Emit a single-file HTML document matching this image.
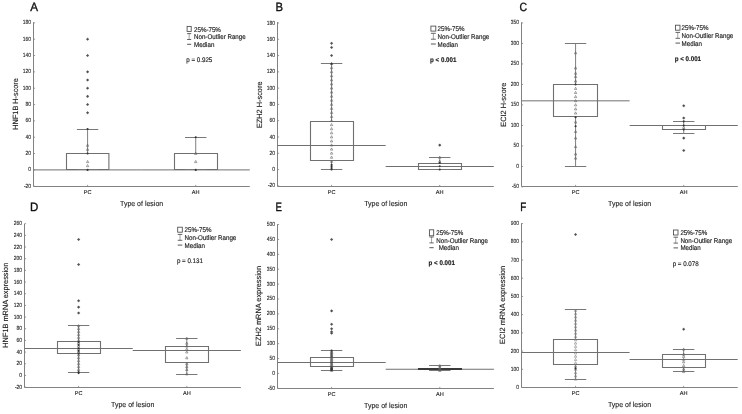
<!DOCTYPE html>
<html><head><meta charset="utf-8"><style>
html,body{margin:0;padding:0;background:#fff;}
svg{display:block;font-family:"Liberation Sans", sans-serif;filter:grayscale(1);text-rendering:geometricPrecision;}
text{stroke:#1a1a1a;stroke-width:0.15px;}
</style></head><body>
<svg width="742" height="414" viewBox="0 0 742 414">
<rect width="742" height="414" fill="#fff"/>
<text transform="translate(30.22 10.5) scale(0.97 1)" font-size="12" fill="#111" style="stroke:#111;stroke-width:0.35px">A</text>
<path d="M33.5 22.2V186.5H249.8" fill="none" stroke="#828282" stroke-width="1"/>
<path d="M33.5 186.24h1.6" stroke="#828282" stroke-width="0.8"/>
<text x="31" y="187.74" font-size="6.0" text-anchor="end" fill="#1a1a1a" style="stroke-width:0.1px" textLength="7.12" lengthAdjust="spacingAndGlyphs">-20</text>
<path d="M33.5 169.9h1.6" stroke="#828282" stroke-width="0.8"/>
<text x="31" y="171.4" font-size="6.0" text-anchor="end" fill="#1a1a1a" style="stroke-width:0.1px" textLength="2.74" lengthAdjust="spacingAndGlyphs">0</text>
<path d="M33.5 153.56h1.6" stroke="#828282" stroke-width="0.8"/>
<text x="31" y="155.06" font-size="6.0" text-anchor="end" fill="#1a1a1a" style="stroke-width:0.1px" textLength="5.48" lengthAdjust="spacingAndGlyphs">20</text>
<path d="M33.5 137.22h1.6" stroke="#828282" stroke-width="0.8"/>
<text x="31" y="138.72" font-size="6.0" text-anchor="end" fill="#1a1a1a" style="stroke-width:0.1px" textLength="5.48" lengthAdjust="spacingAndGlyphs">40</text>
<path d="M33.5 120.88h1.6" stroke="#828282" stroke-width="0.8"/>
<text x="31" y="122.38" font-size="6.0" text-anchor="end" fill="#1a1a1a" style="stroke-width:0.1px" textLength="5.48" lengthAdjust="spacingAndGlyphs">60</text>
<path d="M33.5 104.55h1.6" stroke="#828282" stroke-width="0.8"/>
<text x="31" y="106.05" font-size="6.0" text-anchor="end" fill="#1a1a1a" style="stroke-width:0.1px" textLength="5.48" lengthAdjust="spacingAndGlyphs">80</text>
<path d="M33.5 88.21h1.6" stroke="#828282" stroke-width="0.8"/>
<text x="31" y="89.71" font-size="6.0" text-anchor="end" fill="#1a1a1a" style="stroke-width:0.1px" textLength="8.22" lengthAdjust="spacingAndGlyphs">100</text>
<path d="M33.5 71.87h1.6" stroke="#828282" stroke-width="0.8"/>
<text x="31" y="73.37" font-size="6.0" text-anchor="end" fill="#1a1a1a" style="stroke-width:0.1px" textLength="8.22" lengthAdjust="spacingAndGlyphs">120</text>
<path d="M33.5 55.53h1.6" stroke="#828282" stroke-width="0.8"/>
<text x="31" y="57.03" font-size="6.0" text-anchor="end" fill="#1a1a1a" style="stroke-width:0.1px" textLength="8.22" lengthAdjust="spacingAndGlyphs">140</text>
<path d="M33.5 39.19h1.6" stroke="#828282" stroke-width="0.8"/>
<text x="31" y="40.69" font-size="6.0" text-anchor="end" fill="#1a1a1a" style="stroke-width:0.1px" textLength="8.22" lengthAdjust="spacingAndGlyphs">160</text>
<path d="M33.5 22.85h1.6" stroke="#828282" stroke-width="0.8"/>
<text x="31" y="24.35" font-size="6.0" text-anchor="end" fill="#1a1a1a" style="stroke-width:0.1px" textLength="8.22" lengthAdjust="spacingAndGlyphs">180</text>
<path d="M87.58 186.5v-1.6" stroke="#828282" stroke-width="0.8"/>
<text x="87.58" y="194.1" font-size="5.6" text-anchor="middle" fill="#1a1a1a" style="stroke-width:0.1px">PC</text>
<path d="M195.73 186.5v-1.6" stroke="#828282" stroke-width="0.8"/>
<text x="195.73" y="194.1" font-size="5.6" text-anchor="middle" fill="#1a1a1a" style="stroke-width:0.1px">AH</text>
<text x="141.6" y="206" font-size="7.35" text-anchor="middle" fill="#1a1a1a" style="stroke-width:0.1px" textLength="43.2" lengthAdjust="spacingAndGlyphs">Type of lesion</text>
<text transform="translate(17.6 103.9) rotate(-90)" font-size="7.6" text-anchor="middle" fill="#1a1a1a" style="stroke-width:0.12px" textLength="51.5" lengthAdjust="spacingAndGlyphs">HNF1B H-score</text>
<path d="M33.5 169.9h108.15" stroke="#707070" stroke-width="1"/>
<path d="M66.5 153.5H108.9V169.5H66.5Z" fill="none" stroke="#707070" stroke-width="1.1"/>
<path d="M87.58 153.5V129.5M87.58 169.5V169.5" stroke="#707070" stroke-width="0.9" fill="none"/>
<path d="M76.88 129.5H98.28M76.88 169.5H98.28" stroke="#787878" stroke-width="1.1" fill="none"/>
<path d="M87.58 164.52l1.2 2.2h-2.4z" fill="none" stroke="#5a5a5a" stroke-width="0.55"/>
<path d="M87.58 160.43l1.2 2.2h-2.4z" fill="none" stroke="#5a5a5a" stroke-width="0.55"/>
<path d="M87.58 148.18l1.2 2.2h-2.4z" fill="none" stroke="#5a5a5a" stroke-width="0.55"/>
<path d="M87.58 144.09l1.2 2.2h-2.4z" fill="none" stroke="#5a5a5a" stroke-width="0.55"/>
<circle cx="87.58" cy="129.05" r="1.05" fill="#333"/>
<circle cx="87.58" cy="153.56" r="1.05" fill="#333"/>
<circle cx="87.58" cy="169.9" r="1.05" fill="#333"/>
<circle cx="87.58" cy="112.71" r="1.05" fill="#3c3c3c"/><path d="M86.08 112.71h3M87.58 111.21v3" stroke="#555" stroke-width="0.6"/>
<circle cx="87.58" cy="104.55" r="1.05" fill="#3c3c3c"/><path d="M86.08 104.55h3M87.58 103.05v3" stroke="#555" stroke-width="0.6"/>
<circle cx="87.58" cy="96.38" r="1.05" fill="#3c3c3c"/><path d="M86.08 96.38h3M87.58 94.88v3" stroke="#555" stroke-width="0.6"/>
<circle cx="87.58" cy="88.21" r="1.05" fill="#3c3c3c"/><path d="M86.08 88.21h3M87.58 86.71v3" stroke="#555" stroke-width="0.6"/>
<circle cx="87.58" cy="80.04" r="1.05" fill="#3c3c3c"/><path d="M86.08 80.04h3M87.58 78.54v3" stroke="#555" stroke-width="0.6"/>
<circle cx="87.58" cy="71.87" r="1.05" fill="#3c3c3c"/><path d="M86.08 71.87h3M87.58 70.37v3" stroke="#555" stroke-width="0.6"/>
<circle cx="87.58" cy="55.53" r="1.05" fill="#3c3c3c"/><path d="M86.08 55.53h3M87.58 54.03v3" stroke="#555" stroke-width="0.6"/>
<circle cx="87.58" cy="39.19" r="1.05" fill="#3c3c3c"/><path d="M86.08 39.19h3M87.58 37.69v3" stroke="#555" stroke-width="0.6"/>
<path d="M141.65 169.9h108.15" stroke="#707070" stroke-width="1"/>
<path d="M174.5 153.5H217.5V169.5H174.5Z" fill="none" stroke="#707070" stroke-width="1.1"/>
<path d="M195.73 153.5V137.5M195.73 169.5V169.5" stroke="#707070" stroke-width="0.9" fill="none"/>
<path d="M185.03 137.5H206.43M185.03 169.5H206.43" stroke="#787878" stroke-width="1.1" fill="none"/>
<path d="M195.73 160.43l1.2 2.2h-2.4z" fill="none" stroke="#5a5a5a" stroke-width="0.55"/>
<path d="M195.73 152.26l1.2 2.2h-2.4z" fill="none" stroke="#5a5a5a" stroke-width="0.55"/>
<circle cx="195.73" cy="137.22" r="1.05" fill="#333"/>
<circle cx="195.73" cy="169.9" r="1.05" fill="#333"/>
<rect x="187.1" y="26.4" width="4.1" height="5" fill="none" stroke="#4a4a4a" stroke-width="0.85"/>
<path d="M189.15 33.6V39.5" stroke="#707070" stroke-width="0.65" fill="none"/>
<path d="M187.1 33.6h4.1M187.1 39.5h4.1" stroke="#4a4a4a" stroke-width="0.85" fill="none"/>
<path d="M187.1 44.3h4.1" stroke="#444" stroke-width="0.9"/>
<text x="194" y="31.5" font-size="6.8" fill="#1a1a1a" textLength="26.88" lengthAdjust="spacingAndGlyphs">25%-75%</text>
<text x="194" y="39.1" font-size="6.8" fill="#1a1a1a" textLength="51.69" lengthAdjust="spacingAndGlyphs">Non-Outlier Range</text>
<text x="194" y="46.8" font-size="6.8" fill="#1a1a1a" textLength="20.33" lengthAdjust="spacingAndGlyphs">Median</text>
<text x="186.3" y="62" font-size="6.65" fill="#1a1a1a" textLength="26.03" lengthAdjust="spacingAndGlyphs">p = 0.925</text>
<text transform="translate(275.43 10.6) scale(0.94 1)" font-size="12" fill="#111" style="stroke:#111;stroke-width:0.35px">B</text>
<path d="M277.5 22.1V186.5H493.8" fill="none" stroke="#828282" stroke-width="1"/>
<path d="M277.5 185.85h1.6" stroke="#828282" stroke-width="0.8"/>
<text x="275" y="187.35" font-size="6.0" text-anchor="end" fill="#1a1a1a" style="stroke-width:0.1px" textLength="7.12" lengthAdjust="spacingAndGlyphs">-20</text>
<path d="M277.5 169.56h1.6" stroke="#828282" stroke-width="0.8"/>
<text x="275" y="171.06" font-size="6.0" text-anchor="end" fill="#1a1a1a" style="stroke-width:0.1px" textLength="2.74" lengthAdjust="spacingAndGlyphs">0</text>
<path d="M277.5 153.28h1.6" stroke="#828282" stroke-width="0.8"/>
<text x="275" y="154.78" font-size="6.0" text-anchor="end" fill="#1a1a1a" style="stroke-width:0.1px" textLength="5.48" lengthAdjust="spacingAndGlyphs">20</text>
<path d="M277.5 137h1.6" stroke="#828282" stroke-width="0.8"/>
<text x="275" y="138.5" font-size="6.0" text-anchor="end" fill="#1a1a1a" style="stroke-width:0.1px" textLength="5.48" lengthAdjust="spacingAndGlyphs">40</text>
<path d="M277.5 120.71h1.6" stroke="#828282" stroke-width="0.8"/>
<text x="275" y="122.21" font-size="6.0" text-anchor="end" fill="#1a1a1a" style="stroke-width:0.1px" textLength="5.48" lengthAdjust="spacingAndGlyphs">60</text>
<path d="M277.5 104.42h1.6" stroke="#828282" stroke-width="0.8"/>
<text x="275" y="105.92" font-size="6.0" text-anchor="end" fill="#1a1a1a" style="stroke-width:0.1px" textLength="5.48" lengthAdjust="spacingAndGlyphs">80</text>
<path d="M277.5 88.14h1.6" stroke="#828282" stroke-width="0.8"/>
<text x="275" y="89.64" font-size="6.0" text-anchor="end" fill="#1a1a1a" style="stroke-width:0.1px" textLength="8.22" lengthAdjust="spacingAndGlyphs">100</text>
<path d="M277.5 71.85h1.6" stroke="#828282" stroke-width="0.8"/>
<text x="275" y="73.35" font-size="6.0" text-anchor="end" fill="#1a1a1a" style="stroke-width:0.1px" textLength="8.22" lengthAdjust="spacingAndGlyphs">120</text>
<path d="M277.5 55.57h1.6" stroke="#828282" stroke-width="0.8"/>
<text x="275" y="57.07" font-size="6.0" text-anchor="end" fill="#1a1a1a" style="stroke-width:0.1px" textLength="8.22" lengthAdjust="spacingAndGlyphs">140</text>
<path d="M277.5 39.28h1.6" stroke="#828282" stroke-width="0.8"/>
<text x="275" y="40.78" font-size="6.0" text-anchor="end" fill="#1a1a1a" style="stroke-width:0.1px" textLength="8.22" lengthAdjust="spacingAndGlyphs">160</text>
<path d="M277.5 23h1.6" stroke="#828282" stroke-width="0.8"/>
<text x="275" y="24.5" font-size="6.0" text-anchor="end" fill="#1a1a1a" style="stroke-width:0.1px" textLength="8.22" lengthAdjust="spacingAndGlyphs">180</text>
<path d="M331.57 186.5v-1.6" stroke="#828282" stroke-width="0.8"/>
<text x="331.57" y="194.1" font-size="5.6" text-anchor="middle" fill="#1a1a1a" style="stroke-width:0.1px">PC</text>
<path d="M439.73 186.5v-1.6" stroke="#828282" stroke-width="0.8"/>
<text x="439.73" y="194.1" font-size="5.6" text-anchor="middle" fill="#1a1a1a" style="stroke-width:0.1px">AH</text>
<text x="385.8" y="206" font-size="7.35" text-anchor="middle" fill="#1a1a1a" style="stroke-width:0.1px" textLength="43.2" lengthAdjust="spacingAndGlyphs">Type of lesion</text>
<text transform="translate(261.6 104.8) rotate(-90)" font-size="7.6" text-anchor="middle" fill="#1a1a1a" style="stroke-width:0.12px" textLength="46.6" lengthAdjust="spacingAndGlyphs">EZH2 H-score</text>
<path d="M277.5 145.5h108.15" stroke="#707070" stroke-width="1"/>
<path d="M310.5 121.5H353.5V160.5H310.5Z" fill="none" stroke="#707070" stroke-width="1.1"/>
<path d="M331.57 121.5V63.5M331.57 160.5V169.5" stroke="#707070" stroke-width="0.9" fill="none"/>
<path d="M320.88 63.5H342.27M320.88 169.5H342.27" stroke="#787878" stroke-width="1.1" fill="none"/>
<path d="M331.57 160.12l1.2 2.2h-2.4z" fill="none" stroke="#5a5a5a" stroke-width="0.55"/>
<path d="M331.57 156.05l1.2 2.2h-2.4z" fill="none" stroke="#5a5a5a" stroke-width="0.55"/>
<path d="M331.57 151.98l1.2 2.2h-2.4z" fill="none" stroke="#5a5a5a" stroke-width="0.55"/>
<path d="M331.57 147.91l1.2 2.2h-2.4z" fill="none" stroke="#5a5a5a" stroke-width="0.55"/>
<path d="M331.57 143.84l1.2 2.2h-2.4z" fill="none" stroke="#5a5a5a" stroke-width="0.55"/>
<path d="M331.57 139.77l1.2 2.2h-2.4z" fill="none" stroke="#5a5a5a" stroke-width="0.55"/>
<path d="M331.57 135.69l1.2 2.2h-2.4z" fill="none" stroke="#5a5a5a" stroke-width="0.55"/>
<path d="M331.57 131.62l1.2 2.2h-2.4z" fill="none" stroke="#5a5a5a" stroke-width="0.55"/>
<path d="M331.57 127.55l1.2 2.2h-2.4z" fill="none" stroke="#5a5a5a" stroke-width="0.55"/>
<path d="M331.57 123.48l1.2 2.2h-2.4z" fill="none" stroke="#5a5a5a" stroke-width="0.55"/>
<path d="M331.57 119.41l1.2 2.2h-2.4z" fill="none" stroke="#5a5a5a" stroke-width="0.55"/>
<path d="M331.57 115.34l1.2 2.2h-2.4z" fill="none" stroke="#5a5a5a" stroke-width="0.55"/>
<path d="M331.57 111.27l1.2 2.2h-2.4z" fill="none" stroke="#5a5a5a" stroke-width="0.55"/>
<path d="M331.57 107.2l1.2 2.2h-2.4z" fill="none" stroke="#5a5a5a" stroke-width="0.55"/>
<path d="M331.57 103.12l1.2 2.2h-2.4z" fill="none" stroke="#5a5a5a" stroke-width="0.55"/>
<path d="M331.57 99.05l1.2 2.2h-2.4z" fill="none" stroke="#5a5a5a" stroke-width="0.55"/>
<path d="M331.57 94.98l1.2 2.2h-2.4z" fill="none" stroke="#5a5a5a" stroke-width="0.55"/>
<path d="M331.57 90.91l1.2 2.2h-2.4z" fill="none" stroke="#5a5a5a" stroke-width="0.55"/>
<path d="M331.57 86.84l1.2 2.2h-2.4z" fill="none" stroke="#5a5a5a" stroke-width="0.55"/>
<path d="M331.57 82.77l1.2 2.2h-2.4z" fill="none" stroke="#5a5a5a" stroke-width="0.55"/>
<path d="M331.57 78.7l1.2 2.2h-2.4z" fill="none" stroke="#5a5a5a" stroke-width="0.55"/>
<path d="M331.57 74.63l1.2 2.2h-2.4z" fill="none" stroke="#5a5a5a" stroke-width="0.55"/>
<path d="M331.57 70.55l1.2 2.2h-2.4z" fill="none" stroke="#5a5a5a" stroke-width="0.55"/>
<path d="M331.57 66.48l1.2 2.2h-2.4z" fill="none" stroke="#5a5a5a" stroke-width="0.55"/>
<path d="M331.57 62.41l1.2 2.2h-2.4z" fill="none" stroke="#5a5a5a" stroke-width="0.55"/>
<circle cx="331.57" cy="169.56" r="1.05" fill="#333"/>
<circle cx="331.57" cy="167.94" r="1.05" fill="#333"/>
<circle cx="331.57" cy="166.31" r="1.05" fill="#333"/>
<circle cx="331.57" cy="164.68" r="1.05" fill="#333"/>
<circle cx="331.57" cy="63.71" r="1.05" fill="#333"/>
<circle cx="331.57" cy="55.57" r="1.05" fill="#3c3c3c"/><path d="M330.07 55.57h3M331.57 54.07v3" stroke="#555" stroke-width="0.6"/>
<circle cx="331.57" cy="47.43" r="1.05" fill="#3c3c3c"/><path d="M330.07 47.43h3M331.57 45.93v3" stroke="#555" stroke-width="0.6"/>
<circle cx="331.57" cy="43.36" r="1.05" fill="#3c3c3c"/><path d="M330.07 43.36h3M331.57 41.86v3" stroke="#555" stroke-width="0.6"/>
<path d="M385.65 166.5h108.15" stroke="#707070" stroke-width="1"/>
<path d="M418.5 163.5H461.5V169.5H418.5Z" fill="none" stroke="#707070" stroke-width="1.1"/>
<path d="M439.73 163.5V157.5M439.73 169.5V169.5" stroke="#707070" stroke-width="0.9" fill="none"/>
<path d="M429.03 157.5H450.43M429.03 169.5H450.43" stroke="#787878" stroke-width="1.1" fill="none"/>
<path d="M439.73 160.12l1.2 2.2h-2.4z" fill="none" stroke="#5a5a5a" stroke-width="0.55"/>
<path d="M439.73 156.05l1.2 2.2h-2.4z" fill="none" stroke="#5a5a5a" stroke-width="0.55"/>
<circle cx="439.73" cy="169.56" r="1.05" fill="#333"/>
<circle cx="439.73" cy="166.31" r="1.05" fill="#333"/>
<circle cx="439.73" cy="163.05" r="1.05" fill="#333"/>
<circle cx="439.73" cy="145.14" r="1.05" fill="#3c3c3c"/><path d="M438.23 145.14h3M439.73 143.64v3" stroke="#555" stroke-width="0.6"/>
<rect x="430.9" y="26.1" width="4.9" height="5" fill="none" stroke="#4a4a4a" stroke-width="0.85"/>
<path d="M433.35 33.3V39.2" stroke="#707070" stroke-width="0.65" fill="none"/>
<path d="M430.9 33.3h4.9M430.9 39.2h4.9" stroke="#4a4a4a" stroke-width="0.85" fill="none"/>
<path d="M430.9 44h4.9" stroke="#444" stroke-width="0.9"/>
<text x="437.6" y="31.2" font-size="6.8" fill="#1a1a1a" textLength="26.88" lengthAdjust="spacingAndGlyphs">25%-75%</text>
<text x="437.6" y="38.8" font-size="6.8" fill="#1a1a1a" textLength="51.69" lengthAdjust="spacingAndGlyphs">Non-Outlier Range</text>
<text x="437.6" y="46.5" font-size="6.8" fill="#1a1a1a" textLength="20.33" lengthAdjust="spacingAndGlyphs">Median</text>
<text x="430.1" y="61.6" font-size="6.65" font-weight="bold" fill="#1a1a1a" textLength="26.37" lengthAdjust="spacingAndGlyphs">p < 0.001</text>
<text transform="translate(519.62 10.6) scale(0.87 1)" font-size="12" fill="#111" style="stroke:#111;stroke-width:0.35px">C</text>
<path d="M521.5 22.3V186.5H737.8" fill="none" stroke="#828282" stroke-width="1"/>
<path d="M521.5 186.93h1.6" stroke="#828282" stroke-width="0.8"/>
<text x="519" y="188.43" font-size="6.0" text-anchor="end" fill="#1a1a1a" style="stroke-width:0.1px" textLength="7.12" lengthAdjust="spacingAndGlyphs">-50</text>
<path d="M521.5 166.43h1.6" stroke="#828282" stroke-width="0.8"/>
<text x="519" y="167.93" font-size="6.0" text-anchor="end" fill="#1a1a1a" style="stroke-width:0.1px" textLength="2.74" lengthAdjust="spacingAndGlyphs">0</text>
<path d="M521.5 145.93h1.6" stroke="#828282" stroke-width="0.8"/>
<text x="519" y="147.43" font-size="6.0" text-anchor="end" fill="#1a1a1a" style="stroke-width:0.1px" textLength="5.48" lengthAdjust="spacingAndGlyphs">50</text>
<path d="M521.5 125.43h1.6" stroke="#828282" stroke-width="0.8"/>
<text x="519" y="126.93" font-size="6.0" text-anchor="end" fill="#1a1a1a" style="stroke-width:0.1px" textLength="8.22" lengthAdjust="spacingAndGlyphs">100</text>
<path d="M521.5 104.93h1.6" stroke="#828282" stroke-width="0.8"/>
<text x="519" y="106.43" font-size="6.0" text-anchor="end" fill="#1a1a1a" style="stroke-width:0.1px" textLength="8.22" lengthAdjust="spacingAndGlyphs">150</text>
<path d="M521.5 84.43h1.6" stroke="#828282" stroke-width="0.8"/>
<text x="519" y="85.93" font-size="6.0" text-anchor="end" fill="#1a1a1a" style="stroke-width:0.1px" textLength="8.22" lengthAdjust="spacingAndGlyphs">200</text>
<path d="M521.5 63.93h1.6" stroke="#828282" stroke-width="0.8"/>
<text x="519" y="65.43" font-size="6.0" text-anchor="end" fill="#1a1a1a" style="stroke-width:0.1px" textLength="8.22" lengthAdjust="spacingAndGlyphs">250</text>
<path d="M521.5 43.43h1.6" stroke="#828282" stroke-width="0.8"/>
<text x="519" y="44.93" font-size="6.0" text-anchor="end" fill="#1a1a1a" style="stroke-width:0.1px" textLength="8.22" lengthAdjust="spacingAndGlyphs">300</text>
<path d="M521.5 22.93h1.6" stroke="#828282" stroke-width="0.8"/>
<text x="519" y="24.43" font-size="6.0" text-anchor="end" fill="#1a1a1a" style="stroke-width:0.1px" textLength="8.22" lengthAdjust="spacingAndGlyphs">350</text>
<path d="M575.58 186.5v-1.6" stroke="#828282" stroke-width="0.8"/>
<text x="575.58" y="194.1" font-size="5.6" text-anchor="middle" fill="#1a1a1a" style="stroke-width:0.1px">PC</text>
<path d="M683.72 186.5v-1.6" stroke="#828282" stroke-width="0.8"/>
<text x="683.72" y="194.1" font-size="5.6" text-anchor="middle" fill="#1a1a1a" style="stroke-width:0.1px">AH</text>
<text x="629.6" y="206.3" font-size="7.35" text-anchor="middle" fill="#1a1a1a" style="stroke-width:0.1px" textLength="43.2" lengthAdjust="spacingAndGlyphs">Type of lesion</text>
<text transform="translate(505.9 104.7) rotate(-90)" font-size="7.6" text-anchor="middle" fill="#1a1a1a" style="stroke-width:0.12px" textLength="44" lengthAdjust="spacingAndGlyphs">ECI2 H-score</text>
<path d="M521.5 100.83h108.15" stroke="#707070" stroke-width="1"/>
<path d="M553.5 84.5H597.5V116.5H553.5Z" fill="none" stroke="#707070" stroke-width="1.1"/>
<path d="M575.58 84.5V43.5M575.58 116.5V166.5" stroke="#707070" stroke-width="0.9" fill="none"/>
<path d="M564.88 43.5H586.28M564.88 166.5H586.28" stroke="#787878" stroke-width="1.1" fill="none"/>
<path d="M575.58 51.56l1.2 2.2h-2.4z" fill="none" stroke="#5a5a5a" stroke-width="0.55"/>
<path d="M575.58 66.73l1.2 2.2h-2.4z" fill="none" stroke="#5a5a5a" stroke-width="0.55"/>
<path d="M575.58 72.06l1.2 2.2h-2.4z" fill="none" stroke="#5a5a5a" stroke-width="0.55"/>
<path d="M575.58 75.34l1.2 2.2h-2.4z" fill="none" stroke="#5a5a5a" stroke-width="0.55"/>
<path d="M575.58 79.85l1.2 2.2h-2.4z" fill="none" stroke="#5a5a5a" stroke-width="0.55"/>
<path d="M575.58 87.23l1.2 2.2h-2.4z" fill="none" stroke="#5a5a5a" stroke-width="0.55"/>
<path d="M575.58 91.33l1.2 2.2h-2.4z" fill="none" stroke="#5a5a5a" stroke-width="0.55"/>
<path d="M575.58 95.43l1.2 2.2h-2.4z" fill="none" stroke="#5a5a5a" stroke-width="0.55"/>
<path d="M575.58 99.53l1.2 2.2h-2.4z" fill="none" stroke="#5a5a5a" stroke-width="0.55"/>
<path d="M575.58 103.63l1.2 2.2h-2.4z" fill="none" stroke="#5a5a5a" stroke-width="0.55"/>
<path d="M575.58 107.73l1.2 2.2h-2.4z" fill="none" stroke="#5a5a5a" stroke-width="0.55"/>
<path d="M575.58 111.83l1.2 2.2h-2.4z" fill="none" stroke="#5a5a5a" stroke-width="0.55"/>
<path d="M575.58 120.85l1.2 2.2h-2.4z" fill="none" stroke="#5a5a5a" stroke-width="0.55"/>
<path d="M575.58 130.28l1.2 2.2h-2.4z" fill="none" stroke="#5a5a5a" stroke-width="0.55"/>
<path d="M575.58 136.84l1.2 2.2h-2.4z" fill="none" stroke="#5a5a5a" stroke-width="0.55"/>
<path d="M575.58 145.45l1.2 2.2h-2.4z" fill="none" stroke="#5a5a5a" stroke-width="0.55"/>
<path d="M575.58 152.83l1.2 2.2h-2.4z" fill="none" stroke="#5a5a5a" stroke-width="0.55"/>
<path d="M575.58 156.93l1.2 2.2h-2.4z" fill="none" stroke="#5a5a5a" stroke-width="0.55"/>
<circle cx="575.58" cy="84.43" r="1.05" fill="#333"/>
<circle cx="575.58" cy="117.23" r="1.05" fill="#333"/>
<circle cx="575.58" cy="126.25" r="1.05" fill="#333"/>
<path d="M629.65 125.5h108.15" stroke="#707070" stroke-width="1"/>
<path d="M662.5 125.5H705.5V129.5H662.5Z" fill="none" stroke="#707070" stroke-width="1.1"/>
<path d="M683.72 125.5V121.5M683.72 129.5V133.5" stroke="#707070" stroke-width="0.9" fill="none"/>
<path d="M673.02 121.5H694.42M673.02 133.5H694.42" stroke="#787878" stroke-width="1.1" fill="none"/>
<path d="M683.72 126.18l1.2 2.2h-2.4z" fill="none" stroke="#5a5a5a" stroke-width="0.55"/>
<circle cx="683.72" cy="125.43" r="1.05" fill="#333"/>
<circle cx="683.72" cy="129.53" r="1.05" fill="#333"/>
<circle cx="683.72" cy="121.33" r="1.05" fill="#333"/>
<circle cx="683.72" cy="150.44" r="1.05" fill="#3c3c3c"/><path d="M682.22 150.44h3M683.72 148.94v3" stroke="#555" stroke-width="0.6"/>
<circle cx="683.72" cy="138.14" r="1.05" fill="#3c3c3c"/><path d="M682.22 138.14h3M683.72 136.64v3" stroke="#555" stroke-width="0.6"/>
<circle cx="683.72" cy="118.05" r="1.05" fill="#3c3c3c"/><path d="M682.22 118.05h3M683.72 116.55v3" stroke="#555" stroke-width="0.6"/>
<circle cx="683.72" cy="105.75" r="1.05" fill="#3c3c3c"/><path d="M682.22 105.75h3M683.72 104.25v3" stroke="#555" stroke-width="0.6"/>
<rect x="675.5" y="25.2" width="4.5" height="5" fill="none" stroke="#4a4a4a" stroke-width="0.85"/>
<path d="M677.75 32.4V38.3" stroke="#707070" stroke-width="0.65" fill="none"/>
<path d="M675.5 32.4h4.5M675.5 38.3h4.5" stroke="#4a4a4a" stroke-width="0.85" fill="none"/>
<path d="M675.5 43.1h4.5" stroke="#444" stroke-width="0.9"/>
<text x="681.6" y="30.3" font-size="6.8" fill="#1a1a1a" textLength="26.88" lengthAdjust="spacingAndGlyphs">25%-75%</text>
<text x="681.6" y="37.9" font-size="6.8" fill="#1a1a1a" textLength="51.69" lengthAdjust="spacingAndGlyphs">Non-Outlier Range</text>
<text x="681.6" y="45.6" font-size="6.8" fill="#1a1a1a" textLength="20.33" lengthAdjust="spacingAndGlyphs">Median</text>
<text x="674.7" y="61" font-size="6.65" font-weight="bold" fill="#1a1a1a" textLength="26.37" lengthAdjust="spacingAndGlyphs">p < 0.001</text>
<text transform="translate(30.1 210.5) scale(0.96 1)" font-size="12" fill="#111" style="stroke:#111;stroke-width:0.35px">D</text>
<path d="M24.5 223.8V387.5H240.9" fill="none" stroke="#828282" stroke-width="1"/>
<path d="M24.5 387.1h1.6" stroke="#828282" stroke-width="0.8"/>
<text x="22" y="388.6" font-size="6.0" text-anchor="end" fill="#1a1a1a" style="stroke-width:0.1px" textLength="7.12" lengthAdjust="spacingAndGlyphs">-20</text>
<path d="M24.5 375.43h1.6" stroke="#828282" stroke-width="0.8"/>
<text x="22" y="376.93" font-size="6.0" text-anchor="end" fill="#1a1a1a" style="stroke-width:0.1px" textLength="2.74" lengthAdjust="spacingAndGlyphs">0</text>
<path d="M24.5 363.76h1.6" stroke="#828282" stroke-width="0.8"/>
<text x="22" y="365.26" font-size="6.0" text-anchor="end" fill="#1a1a1a" style="stroke-width:0.1px" textLength="5.48" lengthAdjust="spacingAndGlyphs">20</text>
<path d="M24.5 352.09h1.6" stroke="#828282" stroke-width="0.8"/>
<text x="22" y="353.59" font-size="6.0" text-anchor="end" fill="#1a1a1a" style="stroke-width:0.1px" textLength="5.48" lengthAdjust="spacingAndGlyphs">40</text>
<path d="M24.5 340.41h1.6" stroke="#828282" stroke-width="0.8"/>
<text x="22" y="341.91" font-size="6.0" text-anchor="end" fill="#1a1a1a" style="stroke-width:0.1px" textLength="5.48" lengthAdjust="spacingAndGlyphs">60</text>
<path d="M24.5 328.74h1.6" stroke="#828282" stroke-width="0.8"/>
<text x="22" y="330.24" font-size="6.0" text-anchor="end" fill="#1a1a1a" style="stroke-width:0.1px" textLength="5.48" lengthAdjust="spacingAndGlyphs">80</text>
<path d="M24.5 317.07h1.6" stroke="#828282" stroke-width="0.8"/>
<text x="22" y="318.57" font-size="6.0" text-anchor="end" fill="#1a1a1a" style="stroke-width:0.1px" textLength="8.22" lengthAdjust="spacingAndGlyphs">100</text>
<path d="M24.5 305.4h1.6" stroke="#828282" stroke-width="0.8"/>
<text x="22" y="306.9" font-size="6.0" text-anchor="end" fill="#1a1a1a" style="stroke-width:0.1px" textLength="8.22" lengthAdjust="spacingAndGlyphs">120</text>
<path d="M24.5 293.73h1.6" stroke="#828282" stroke-width="0.8"/>
<text x="22" y="295.23" font-size="6.0" text-anchor="end" fill="#1a1a1a" style="stroke-width:0.1px" textLength="8.22" lengthAdjust="spacingAndGlyphs">140</text>
<path d="M24.5 282.06h1.6" stroke="#828282" stroke-width="0.8"/>
<text x="22" y="283.56" font-size="6.0" text-anchor="end" fill="#1a1a1a" style="stroke-width:0.1px" textLength="8.22" lengthAdjust="spacingAndGlyphs">160</text>
<path d="M24.5 270.39h1.6" stroke="#828282" stroke-width="0.8"/>
<text x="22" y="271.89" font-size="6.0" text-anchor="end" fill="#1a1a1a" style="stroke-width:0.1px" textLength="8.22" lengthAdjust="spacingAndGlyphs">180</text>
<path d="M24.5 258.71h1.6" stroke="#828282" stroke-width="0.8"/>
<text x="22" y="260.21" font-size="6.0" text-anchor="end" fill="#1a1a1a" style="stroke-width:0.1px" textLength="8.22" lengthAdjust="spacingAndGlyphs">200</text>
<path d="M24.5 247.04h1.6" stroke="#828282" stroke-width="0.8"/>
<text x="22" y="248.54" font-size="6.0" text-anchor="end" fill="#1a1a1a" style="stroke-width:0.1px" textLength="8.22" lengthAdjust="spacingAndGlyphs">220</text>
<path d="M24.5 235.37h1.6" stroke="#828282" stroke-width="0.8"/>
<text x="22" y="236.87" font-size="6.0" text-anchor="end" fill="#1a1a1a" style="stroke-width:0.1px" textLength="8.22" lengthAdjust="spacingAndGlyphs">240</text>
<path d="M24.5 223.7h1.6" stroke="#828282" stroke-width="0.8"/>
<text x="22" y="225.2" font-size="6.0" text-anchor="end" fill="#1a1a1a" style="stroke-width:0.1px" textLength="8.22" lengthAdjust="spacingAndGlyphs">260</text>
<path d="M78.6 387.5v-1.6" stroke="#828282" stroke-width="0.8"/>
<text x="78.6" y="395.1" font-size="5.6" text-anchor="middle" fill="#1a1a1a" style="stroke-width:0.1px">PC</text>
<path d="M186.8 387.5v-1.6" stroke="#828282" stroke-width="0.8"/>
<text x="186.8" y="395.1" font-size="5.6" text-anchor="middle" fill="#1a1a1a" style="stroke-width:0.1px">AH</text>
<text x="132.7" y="407" font-size="7.35" text-anchor="middle" fill="#1a1a1a" style="stroke-width:0.1px" textLength="43.2" lengthAdjust="spacingAndGlyphs">Type of lesion</text>
<text transform="translate(8.3 305.2) rotate(-90)" font-size="7.6" text-anchor="middle" fill="#1a1a1a" style="stroke-width:0.12px" textLength="85" lengthAdjust="spacingAndGlyphs">HNF1B mRNA expression</text>
<path d="M24.5 348.5h108.2" stroke="#707070" stroke-width="1"/>
<path d="M57.5 341.5H100.5V353.5H57.5Z" fill="none" stroke="#707070" stroke-width="1.1"/>
<path d="M78.6 341.5V325.5M78.6 353.5V372.5" stroke="#707070" stroke-width="0.9" fill="none"/>
<path d="M67.9 325.5H89.3M67.9 372.5H89.3" stroke="#787878" stroke-width="1.1" fill="none"/>
<path d="M78.6 368.29l1.2 2.2h-2.4z" fill="none" stroke="#5a5a5a" stroke-width="0.55"/>
<path d="M78.6 365.38l1.2 2.2h-2.4z" fill="none" stroke="#5a5a5a" stroke-width="0.55"/>
<path d="M78.6 362.46l1.2 2.2h-2.4z" fill="none" stroke="#5a5a5a" stroke-width="0.55"/>
<path d="M78.6 359.54l1.2 2.2h-2.4z" fill="none" stroke="#5a5a5a" stroke-width="0.55"/>
<path d="M78.6 356.62l1.2 2.2h-2.4z" fill="none" stroke="#5a5a5a" stroke-width="0.55"/>
<path d="M78.6 353.7l1.2 2.2h-2.4z" fill="none" stroke="#5a5a5a" stroke-width="0.55"/>
<path d="M78.6 350.79l1.2 2.2h-2.4z" fill="none" stroke="#5a5a5a" stroke-width="0.55"/>
<path d="M78.6 347.87l1.2 2.2h-2.4z" fill="none" stroke="#5a5a5a" stroke-width="0.55"/>
<path d="M78.6 344.95l1.2 2.2h-2.4z" fill="none" stroke="#5a5a5a" stroke-width="0.55"/>
<path d="M78.6 342.03l1.2 2.2h-2.4z" fill="none" stroke="#5a5a5a" stroke-width="0.55"/>
<path d="M78.6 339.11l1.2 2.2h-2.4z" fill="none" stroke="#5a5a5a" stroke-width="0.55"/>
<path d="M78.6 336.2l1.2 2.2h-2.4z" fill="none" stroke="#5a5a5a" stroke-width="0.55"/>
<path d="M78.6 333.28l1.2 2.2h-2.4z" fill="none" stroke="#5a5a5a" stroke-width="0.55"/>
<path d="M78.6 330.36l1.2 2.2h-2.4z" fill="none" stroke="#5a5a5a" stroke-width="0.55"/>
<path d="M78.6 327.44l1.2 2.2h-2.4z" fill="none" stroke="#5a5a5a" stroke-width="0.55"/>
<path d="M78.6 324.52l1.2 2.2h-2.4z" fill="none" stroke="#5a5a5a" stroke-width="0.55"/>
<circle cx="78.6" cy="342.17" r="1.05" fill="#333"/>
<circle cx="78.6" cy="345.08" r="1.05" fill="#333"/>
<circle cx="78.6" cy="348.29" r="1.05" fill="#333"/>
<circle cx="78.6" cy="350.92" r="1.05" fill="#333"/>
<circle cx="78.6" cy="353.49" r="1.05" fill="#333"/>
<circle cx="78.6" cy="372.16" r="1.05" fill="#333"/>
<circle cx="78.6" cy="373.09" r="1.05" fill="#333"/>
<circle cx="78.6" cy="312.99" r="1.05" fill="#3c3c3c"/><path d="M77.1 312.99h3M78.6 311.49v3" stroke="#555" stroke-width="0.6"/>
<circle cx="78.6" cy="307.15" r="1.05" fill="#3c3c3c"/><path d="M77.1 307.15h3M78.6 305.65v3" stroke="#555" stroke-width="0.6"/>
<circle cx="78.6" cy="300.73" r="1.05" fill="#3c3c3c"/><path d="M77.1 300.73h3M78.6 299.23v3" stroke="#555" stroke-width="0.6"/>
<circle cx="78.6" cy="264.55" r="1.05" fill="#3c3c3c"/><path d="M77.1 264.55h3M78.6 263.05v3" stroke="#555" stroke-width="0.6"/>
<circle cx="78.6" cy="239.46" r="1.05" fill="#3c3c3c"/><path d="M77.1 239.46h3M78.6 237.96v3" stroke="#555" stroke-width="0.6"/>
<path d="M132.7 350.5h108.2" stroke="#707070" stroke-width="1"/>
<path d="M165.5 346.5H208.5V362.5H165.5Z" fill="none" stroke="#707070" stroke-width="1.1"/>
<path d="M186.8 346.5V338.5M186.8 362.5V374.5" stroke="#707070" stroke-width="0.9" fill="none"/>
<path d="M176.1 338.5H197.5M176.1 374.5H197.5" stroke="#787878" stroke-width="1.1" fill="none"/>
<path d="M186.8 372.73l1.2 2.2h-2.4z" fill="none" stroke="#5a5a5a" stroke-width="0.55"/>
<path d="M186.8 368.29l1.2 2.2h-2.4z" fill="none" stroke="#5a5a5a" stroke-width="0.55"/>
<path d="M186.8 365.38l1.2 2.2h-2.4z" fill="none" stroke="#5a5a5a" stroke-width="0.55"/>
<path d="M186.8 362.46l1.2 2.2h-2.4z" fill="none" stroke="#5a5a5a" stroke-width="0.55"/>
<path d="M186.8 356.62l1.2 2.2h-2.4z" fill="none" stroke="#5a5a5a" stroke-width="0.55"/>
<path d="M186.8 350.79l1.2 2.2h-2.4z" fill="none" stroke="#5a5a5a" stroke-width="0.55"/>
<path d="M186.8 347.87l1.2 2.2h-2.4z" fill="none" stroke="#5a5a5a" stroke-width="0.55"/>
<path d="M186.8 344.95l1.2 2.2h-2.4z" fill="none" stroke="#5a5a5a" stroke-width="0.55"/>
<path d="M186.8 342.03l1.2 2.2h-2.4z" fill="none" stroke="#5a5a5a" stroke-width="0.55"/>
<path d="M186.8 337.07l1.2 2.2h-2.4z" fill="none" stroke="#5a5a5a" stroke-width="0.55"/>
<rect x="177.7" y="227.2" width="4.6" height="5" fill="none" stroke="#4a4a4a" stroke-width="0.85"/>
<path d="M180 234.4V240.3" stroke="#707070" stroke-width="0.65" fill="none"/>
<path d="M177.7 234.4h4.6M177.7 240.3h4.6" stroke="#4a4a4a" stroke-width="0.85" fill="none"/>
<path d="M177.7 245.1h4.6" stroke="#444" stroke-width="0.9"/>
<text x="184.6" y="232.3" font-size="6.8" fill="#1a1a1a" textLength="26.88" lengthAdjust="spacingAndGlyphs">25%-75%</text>
<text x="184.6" y="239.9" font-size="6.8" fill="#1a1a1a" textLength="51.69" lengthAdjust="spacingAndGlyphs">Non-Outlier Range</text>
<text x="184.6" y="247.6" font-size="6.8" fill="#1a1a1a" textLength="20.33" lengthAdjust="spacingAndGlyphs">Median</text>
<text x="176.9" y="262.6" font-size="6.65" fill="#1a1a1a" textLength="26.03" lengthAdjust="spacingAndGlyphs">p = 0.131</text>
<text transform="translate(275.57 210.8) scale(0.8 1)" font-size="12" fill="#111" style="stroke:#111;stroke-width:0.35px">E</text>
<path d="M277.5 224.2V388.5H493.9" fill="none" stroke="#828282" stroke-width="1"/>
<path d="M277.5 388.32h1.6" stroke="#828282" stroke-width="0.8"/>
<text x="275" y="389.82" font-size="6.0" text-anchor="end" fill="#1a1a1a" style="stroke-width:0.1px" textLength="7.12" lengthAdjust="spacingAndGlyphs">-50</text>
<path d="M277.5 373.43h1.6" stroke="#828282" stroke-width="0.8"/>
<text x="275" y="374.93" font-size="6.0" text-anchor="end" fill="#1a1a1a" style="stroke-width:0.1px" textLength="2.74" lengthAdjust="spacingAndGlyphs">0</text>
<path d="M277.5 358.54h1.6" stroke="#828282" stroke-width="0.8"/>
<text x="275" y="360.04" font-size="6.0" text-anchor="end" fill="#1a1a1a" style="stroke-width:0.1px" textLength="5.48" lengthAdjust="spacingAndGlyphs">50</text>
<path d="M277.5 343.66h1.6" stroke="#828282" stroke-width="0.8"/>
<text x="275" y="345.16" font-size="6.0" text-anchor="end" fill="#1a1a1a" style="stroke-width:0.1px" textLength="8.22" lengthAdjust="spacingAndGlyphs">100</text>
<path d="M277.5 328.77h1.6" stroke="#828282" stroke-width="0.8"/>
<text x="275" y="330.27" font-size="6.0" text-anchor="end" fill="#1a1a1a" style="stroke-width:0.1px" textLength="8.22" lengthAdjust="spacingAndGlyphs">150</text>
<path d="M277.5 313.88h1.6" stroke="#828282" stroke-width="0.8"/>
<text x="275" y="315.38" font-size="6.0" text-anchor="end" fill="#1a1a1a" style="stroke-width:0.1px" textLength="8.22" lengthAdjust="spacingAndGlyphs">200</text>
<path d="M277.5 298.99h1.6" stroke="#828282" stroke-width="0.8"/>
<text x="275" y="300.49" font-size="6.0" text-anchor="end" fill="#1a1a1a" style="stroke-width:0.1px" textLength="8.22" lengthAdjust="spacingAndGlyphs">250</text>
<path d="M277.5 284.1h1.6" stroke="#828282" stroke-width="0.8"/>
<text x="275" y="285.6" font-size="6.0" text-anchor="end" fill="#1a1a1a" style="stroke-width:0.1px" textLength="8.22" lengthAdjust="spacingAndGlyphs">300</text>
<path d="M277.5 269.21h1.6" stroke="#828282" stroke-width="0.8"/>
<text x="275" y="270.71" font-size="6.0" text-anchor="end" fill="#1a1a1a" style="stroke-width:0.1px" textLength="8.22" lengthAdjust="spacingAndGlyphs">350</text>
<path d="M277.5 254.33h1.6" stroke="#828282" stroke-width="0.8"/>
<text x="275" y="255.83" font-size="6.0" text-anchor="end" fill="#1a1a1a" style="stroke-width:0.1px" textLength="8.22" lengthAdjust="spacingAndGlyphs">400</text>
<path d="M277.5 239.44h1.6" stroke="#828282" stroke-width="0.8"/>
<text x="275" y="240.94" font-size="6.0" text-anchor="end" fill="#1a1a1a" style="stroke-width:0.1px" textLength="8.22" lengthAdjust="spacingAndGlyphs">450</text>
<path d="M277.5 224.55h1.6" stroke="#828282" stroke-width="0.8"/>
<text x="275" y="226.05" font-size="6.0" text-anchor="end" fill="#1a1a1a" style="stroke-width:0.1px" textLength="8.22" lengthAdjust="spacingAndGlyphs">500</text>
<path d="M331.6 388.5v-1.6" stroke="#828282" stroke-width="0.8"/>
<text x="331.6" y="396.1" font-size="5.6" text-anchor="middle" fill="#1a1a1a" style="stroke-width:0.1px">PC</text>
<path d="M439.8 388.5v-1.6" stroke="#828282" stroke-width="0.8"/>
<text x="439.8" y="396.1" font-size="5.6" text-anchor="middle" fill="#1a1a1a" style="stroke-width:0.1px">AH</text>
<text x="385.7" y="407.7" font-size="7.35" text-anchor="middle" fill="#1a1a1a" style="stroke-width:0.1px" textLength="43.2" lengthAdjust="spacingAndGlyphs">Type of lesion</text>
<text transform="translate(261.1 306) rotate(-90)" font-size="7.6" text-anchor="middle" fill="#1a1a1a" style="stroke-width:0.12px" textLength="80" lengthAdjust="spacingAndGlyphs">EZH2 mRNA expression</text>
<path d="M277.5 362.5h108.2" stroke="#707070" stroke-width="1"/>
<path d="M310.5 357.5H353.5V366.5H310.5Z" fill="none" stroke="#707070" stroke-width="1.1"/>
<path d="M331.6 357.5V350.5M331.6 366.5V370.5" stroke="#707070" stroke-width="0.9" fill="none"/>
<path d="M320.9 350.5H342.3M320.9 370.5H342.3" stroke="#787878" stroke-width="1.1" fill="none"/>
<path d="M331.6 369.15l1.2 2.2h-2.4z" fill="none" stroke="#4a4a4a" stroke-width="0.55"/>
<path d="M331.6 367.96l1.2 2.2h-2.4z" fill="none" stroke="#4a4a4a" stroke-width="0.55"/>
<path d="M331.6 366.77l1.2 2.2h-2.4z" fill="none" stroke="#4a4a4a" stroke-width="0.55"/>
<path d="M331.6 365.58l1.2 2.2h-2.4z" fill="none" stroke="#4a4a4a" stroke-width="0.55"/>
<path d="M331.6 364.39l1.2 2.2h-2.4z" fill="none" stroke="#4a4a4a" stroke-width="0.55"/>
<path d="M331.6 363.2l1.2 2.2h-2.4z" fill="none" stroke="#4a4a4a" stroke-width="0.55"/>
<path d="M331.6 362.01l1.2 2.2h-2.4z" fill="none" stroke="#4a4a4a" stroke-width="0.55"/>
<path d="M331.6 360.82l1.2 2.2h-2.4z" fill="none" stroke="#4a4a4a" stroke-width="0.55"/>
<path d="M331.6 359.63l1.2 2.2h-2.4z" fill="none" stroke="#4a4a4a" stroke-width="0.55"/>
<path d="M331.6 358.43l1.2 2.2h-2.4z" fill="none" stroke="#4a4a4a" stroke-width="0.55"/>
<path d="M331.6 357.24l1.2 2.2h-2.4z" fill="none" stroke="#4a4a4a" stroke-width="0.55"/>
<path d="M331.6 356.05l1.2 2.2h-2.4z" fill="none" stroke="#4a4a4a" stroke-width="0.55"/>
<path d="M331.6 354.86l1.2 2.2h-2.4z" fill="none" stroke="#4a4a4a" stroke-width="0.55"/>
<path d="M331.6 353.67l1.2 2.2h-2.4z" fill="none" stroke="#4a4a4a" stroke-width="0.55"/>
<path d="M331.6 352.48l1.2 2.2h-2.4z" fill="none" stroke="#4a4a4a" stroke-width="0.55"/>
<path d="M331.6 351.29l1.2 2.2h-2.4z" fill="none" stroke="#4a4a4a" stroke-width="0.55"/>
<path d="M331.6 350.1l1.2 2.2h-2.4z" fill="none" stroke="#4a4a4a" stroke-width="0.55"/>
<circle cx="331.6" cy="350.5" r="1.05" fill="#333"/>
<circle cx="331.6" cy="370.16" r="1.05" fill="#333"/>
<circle cx="331.6" cy="369.26" r="1.05" fill="#333"/>
<circle cx="331.6" cy="368.37" r="1.05" fill="#333"/>
<circle cx="331.6" cy="333.23" r="1.05" fill="#3c3c3c"/><path d="M330.1 333.23h3M331.6 331.73v3" stroke="#555" stroke-width="0.6"/>
<circle cx="331.6" cy="331.74" r="1.05" fill="#3c3c3c"/><path d="M330.1 331.74h3M331.6 330.24v3" stroke="#555" stroke-width="0.6"/>
<circle cx="331.6" cy="328.77" r="1.05" fill="#3c3c3c"/><path d="M330.1 328.77h3M331.6 327.27v3" stroke="#555" stroke-width="0.6"/>
<circle cx="331.6" cy="324.3" r="1.05" fill="#3c3c3c"/><path d="M330.1 324.3h3M331.6 322.8v3" stroke="#555" stroke-width="0.6"/>
<circle cx="331.6" cy="310.9" r="1.05" fill="#3c3c3c"/><path d="M330.1 310.9h3M331.6 309.4v3" stroke="#555" stroke-width="0.6"/>
<circle cx="331.6" cy="239.44" r="1.05" fill="#3c3c3c"/><path d="M330.1 239.44h3M331.6 237.94v3" stroke="#555" stroke-width="0.6"/>
<path d="M385.7 369.26h108.2" stroke="#707070" stroke-width="1"/>
<path d="M418.5 368.5H461.5V369.5H418.5Z" fill="#555" stroke="#3a3a3a" stroke-width="1.1"/>
<path d="M439.8 368.5V365.5M439.8 369.5V370.5" stroke="#707070" stroke-width="0.9" fill="none"/>
<path d="M429.1 365.5H450.5M429.1 370.5H450.5" stroke="#787878" stroke-width="1.1" fill="none"/>
<path d="M439.8 369.15l1.2 2.2h-2.4z" fill="none" stroke="#5a5a5a" stroke-width="0.55"/>
<path d="M439.8 368.56l1.2 2.2h-2.4z" fill="none" stroke="#5a5a5a" stroke-width="0.55"/>
<path d="M439.8 367.96l1.2 2.2h-2.4z" fill="none" stroke="#5a5a5a" stroke-width="0.55"/>
<path d="M439.8 367.37l1.2 2.2h-2.4z" fill="none" stroke="#5a5a5a" stroke-width="0.55"/>
<path d="M439.8 366.18l1.2 2.2h-2.4z" fill="none" stroke="#5a5a5a" stroke-width="0.55"/>
<path d="M439.8 364.39l1.2 2.2h-2.4z" fill="none" stroke="#5a5a5a" stroke-width="0.55"/>
<rect x="429.4" y="229.8" width="4.3" height="6" fill="none" stroke="#4a4a4a" stroke-width="0.85"/>
<path d="M431.55 237V242.9" stroke="#707070" stroke-width="0.65" fill="none"/>
<path d="M429.4 237h4.3M429.4 242.9h4.3" stroke="#4a4a4a" stroke-width="0.85" fill="none"/>
<path d="M429.4 247.7h4.3" stroke="#444" stroke-width="0.9"/>
<text x="436.3" y="234.9" font-size="6.8" fill="#1a1a1a" textLength="26.88" lengthAdjust="spacingAndGlyphs">25%-75%</text>
<text x="436.3" y="242.5" font-size="6.8" fill="#1a1a1a" textLength="51.69" lengthAdjust="spacingAndGlyphs">Non-Outlier Range</text>
<text x="438.7" y="250.2" font-size="6.8" fill="#1a1a1a" textLength="20.33" lengthAdjust="spacingAndGlyphs">Median</text>
<text x="428.6" y="265.3" font-size="6.65" font-weight="bold" fill="#1a1a1a" textLength="26.37" lengthAdjust="spacingAndGlyphs">p < 0.001</text>
<text transform="translate(520.15 210.6) scale(0.82 1)" font-size="12" fill="#111" style="stroke:#111;stroke-width:0.35px">F</text>
<path d="M521.5 223.3V387.5H737.7" fill="none" stroke="#828282" stroke-width="1"/>
<path d="M521.5 387.5h1.6" stroke="#828282" stroke-width="0.8"/>
<text x="519" y="389" font-size="6.0" text-anchor="end" fill="#1a1a1a" style="stroke-width:0.1px" textLength="2.74" lengthAdjust="spacingAndGlyphs">0</text>
<path d="M521.5 369.29h1.6" stroke="#828282" stroke-width="0.8"/>
<text x="519" y="370.79" font-size="6.0" text-anchor="end" fill="#1a1a1a" style="stroke-width:0.1px" textLength="8.22" lengthAdjust="spacingAndGlyphs">100</text>
<path d="M521.5 351.07h1.6" stroke="#828282" stroke-width="0.8"/>
<text x="519" y="352.57" font-size="6.0" text-anchor="end" fill="#1a1a1a" style="stroke-width:0.1px" textLength="8.22" lengthAdjust="spacingAndGlyphs">200</text>
<path d="M521.5 332.86h1.6" stroke="#828282" stroke-width="0.8"/>
<text x="519" y="334.36" font-size="6.0" text-anchor="end" fill="#1a1a1a" style="stroke-width:0.1px" textLength="8.22" lengthAdjust="spacingAndGlyphs">300</text>
<path d="M521.5 314.65h1.6" stroke="#828282" stroke-width="0.8"/>
<text x="519" y="316.15" font-size="6.0" text-anchor="end" fill="#1a1a1a" style="stroke-width:0.1px" textLength="8.22" lengthAdjust="spacingAndGlyphs">400</text>
<path d="M521.5 296.43h1.6" stroke="#828282" stroke-width="0.8"/>
<text x="519" y="297.93" font-size="6.0" text-anchor="end" fill="#1a1a1a" style="stroke-width:0.1px" textLength="8.22" lengthAdjust="spacingAndGlyphs">500</text>
<path d="M521.5 278.22h1.6" stroke="#828282" stroke-width="0.8"/>
<text x="519" y="279.72" font-size="6.0" text-anchor="end" fill="#1a1a1a" style="stroke-width:0.1px" textLength="8.22" lengthAdjust="spacingAndGlyphs">600</text>
<path d="M521.5 260.01h1.6" stroke="#828282" stroke-width="0.8"/>
<text x="519" y="261.51" font-size="6.0" text-anchor="end" fill="#1a1a1a" style="stroke-width:0.1px" textLength="8.22" lengthAdjust="spacingAndGlyphs">700</text>
<path d="M521.5 241.79h1.6" stroke="#828282" stroke-width="0.8"/>
<text x="519" y="243.29" font-size="6.0" text-anchor="end" fill="#1a1a1a" style="stroke-width:0.1px" textLength="8.22" lengthAdjust="spacingAndGlyphs">800</text>
<path d="M521.5 223.58h1.6" stroke="#828282" stroke-width="0.8"/>
<text x="519" y="225.08" font-size="6.0" text-anchor="end" fill="#1a1a1a" style="stroke-width:0.1px" textLength="8.22" lengthAdjust="spacingAndGlyphs">900</text>
<path d="M575.55 387.5v-1.6" stroke="#828282" stroke-width="0.8"/>
<text x="575.55" y="395.1" font-size="5.6" text-anchor="middle" fill="#1a1a1a" style="stroke-width:0.1px">PC</text>
<path d="M683.65 387.5v-1.6" stroke="#828282" stroke-width="0.8"/>
<text x="683.65" y="395.1" font-size="5.6" text-anchor="middle" fill="#1a1a1a" style="stroke-width:0.1px">AH</text>
<text x="629.5" y="407" font-size="7.35" text-anchor="middle" fill="#1a1a1a" style="stroke-width:0.1px" textLength="43.2" lengthAdjust="spacingAndGlyphs">Type of lesion</text>
<text transform="translate(505.3 304.9) rotate(-90)" font-size="7.6" text-anchor="middle" fill="#1a1a1a" style="stroke-width:0.12px" textLength="78" lengthAdjust="spacingAndGlyphs">ECI2 mRNA expression</text>
<path d="M521.5 352.5h108.1" stroke="#707070" stroke-width="1"/>
<path d="M553.5 339.5H597.5V364.5H553.5Z" fill="none" stroke="#707070" stroke-width="1.1"/>
<path d="M575.55 339.5V309.5M575.55 364.5V379.5" stroke="#707070" stroke-width="0.9" fill="none"/>
<path d="M564.85 309.5H586.25M564.85 379.5H586.25" stroke="#787878" stroke-width="1.1" fill="none"/>
<path d="M575.55 378l1.2 2.2h-2.4z" fill="none" stroke="#7a7a7a" stroke-width="0.55"/>
<path d="M575.55 374.73l1.2 2.2h-2.4z" fill="none" stroke="#7a7a7a" stroke-width="0.55"/>
<path d="M575.55 371.45l1.2 2.2h-2.4z" fill="none" stroke="#7a7a7a" stroke-width="0.55"/>
<path d="M575.55 368.17l1.2 2.2h-2.4z" fill="none" stroke="#7a7a7a" stroke-width="0.55"/>
<path d="M575.55 364.89l1.2 2.2h-2.4z" fill="none" stroke="#7a7a7a" stroke-width="0.55"/>
<path d="M575.55 361.61l1.2 2.2h-2.4z" fill="none" stroke="#7a7a7a" stroke-width="0.55"/>
<path d="M575.55 358.33l1.2 2.2h-2.4z" fill="none" stroke="#7a7a7a" stroke-width="0.55"/>
<path d="M575.55 355.06l1.2 2.2h-2.4z" fill="none" stroke="#7a7a7a" stroke-width="0.55"/>
<path d="M575.55 351.78l1.2 2.2h-2.4z" fill="none" stroke="#7a7a7a" stroke-width="0.55"/>
<path d="M575.55 348.5l1.2 2.2h-2.4z" fill="none" stroke="#7a7a7a" stroke-width="0.55"/>
<path d="M575.55 345.22l1.2 2.2h-2.4z" fill="none" stroke="#7a7a7a" stroke-width="0.55"/>
<path d="M575.55 341.94l1.2 2.2h-2.4z" fill="none" stroke="#7a7a7a" stroke-width="0.55"/>
<path d="M575.55 338.66l1.2 2.2h-2.4z" fill="none" stroke="#7a7a7a" stroke-width="0.55"/>
<path d="M575.55 335.38l1.2 2.2h-2.4z" fill="none" stroke="#7a7a7a" stroke-width="0.55"/>
<path d="M575.55 332.11l1.2 2.2h-2.4z" fill="none" stroke="#7a7a7a" stroke-width="0.55"/>
<path d="M575.55 328.83l1.2 2.2h-2.4z" fill="none" stroke="#7a7a7a" stroke-width="0.55"/>
<path d="M575.55 325.55l1.2 2.2h-2.4z" fill="none" stroke="#7a7a7a" stroke-width="0.55"/>
<path d="M575.55 322.27l1.2 2.2h-2.4z" fill="none" stroke="#7a7a7a" stroke-width="0.55"/>
<path d="M575.55 318.99l1.2 2.2h-2.4z" fill="none" stroke="#7a7a7a" stroke-width="0.55"/>
<path d="M575.55 315.71l1.2 2.2h-2.4z" fill="none" stroke="#7a7a7a" stroke-width="0.55"/>
<path d="M575.55 312.44l1.2 2.2h-2.4z" fill="none" stroke="#7a7a7a" stroke-width="0.55"/>
<path d="M575.55 309.16l1.2 2.2h-2.4z" fill="none" stroke="#7a7a7a" stroke-width="0.55"/>
<circle cx="575.55" cy="368.38" r="1.05" fill="#333"/>
<circle cx="575.55" cy="234.51" r="1.05" fill="#3c3c3c"/><path d="M574.05 234.51h3M575.55 233.01v3" stroke="#555" stroke-width="0.6"/>
<path d="M629.6 359.5h108.1" stroke="#707070" stroke-width="1"/>
<path d="M662.5 354.5H705.5V367.5H662.5Z" fill="none" stroke="#707070" stroke-width="1.1"/>
<path d="M683.65 354.5V349.5M683.65 367.5V371.5" stroke="#707070" stroke-width="0.9" fill="none"/>
<path d="M672.95 349.5H694.35M672.95 371.5H694.35" stroke="#787878" stroke-width="1.1" fill="none"/>
<path d="M683.65 370.35l1.2 2.2h-2.4z" fill="none" stroke="#5a5a5a" stroke-width="0.55"/>
<path d="M683.65 367.99l1.2 2.2h-2.4z" fill="none" stroke="#5a5a5a" stroke-width="0.55"/>
<path d="M683.65 364.34l1.2 2.2h-2.4z" fill="none" stroke="#5a5a5a" stroke-width="0.55"/>
<path d="M683.65 360.7l1.2 2.2h-2.4z" fill="none" stroke="#5a5a5a" stroke-width="0.55"/>
<path d="M683.65 358.15l1.2 2.2h-2.4z" fill="none" stroke="#5a5a5a" stroke-width="0.55"/>
<path d="M683.65 355.24l1.2 2.2h-2.4z" fill="none" stroke="#5a5a5a" stroke-width="0.55"/>
<path d="M683.65 353.05l1.2 2.2h-2.4z" fill="none" stroke="#5a5a5a" stroke-width="0.55"/>
<path d="M683.65 347.95l1.2 2.2h-2.4z" fill="none" stroke="#5a5a5a" stroke-width="0.55"/>
<circle cx="683.65" cy="329.22" r="1.05" fill="#3c3c3c"/><path d="M682.15 329.22h3M683.65 327.72v3" stroke="#555" stroke-width="0.6"/>
<rect x="673.5" y="230" width="4.5" height="5" fill="none" stroke="#4a4a4a" stroke-width="0.85"/>
<path d="M675.75 237.2V243.1" stroke="#707070" stroke-width="0.65" fill="none"/>
<path d="M673.5 237.2h4.5M673.5 243.1h4.5" stroke="#4a4a4a" stroke-width="0.85" fill="none"/>
<path d="M673.5 247.9h4.5" stroke="#444" stroke-width="0.9"/>
<text x="680.4" y="235.1" font-size="6.8" fill="#1a1a1a" textLength="26.88" lengthAdjust="spacingAndGlyphs">25%-75%</text>
<text x="680.4" y="242.7" font-size="6.8" fill="#1a1a1a" textLength="51.69" lengthAdjust="spacingAndGlyphs">Non-Outlier Range</text>
<text x="680.4" y="250.4" font-size="6.8" fill="#1a1a1a" textLength="20.33" lengthAdjust="spacingAndGlyphs">Median</text>
<text x="672.7" y="266" font-size="6.65" fill="#1a1a1a" textLength="26.03" lengthAdjust="spacingAndGlyphs">p = 0.078</text>
</svg>
</body></html>
